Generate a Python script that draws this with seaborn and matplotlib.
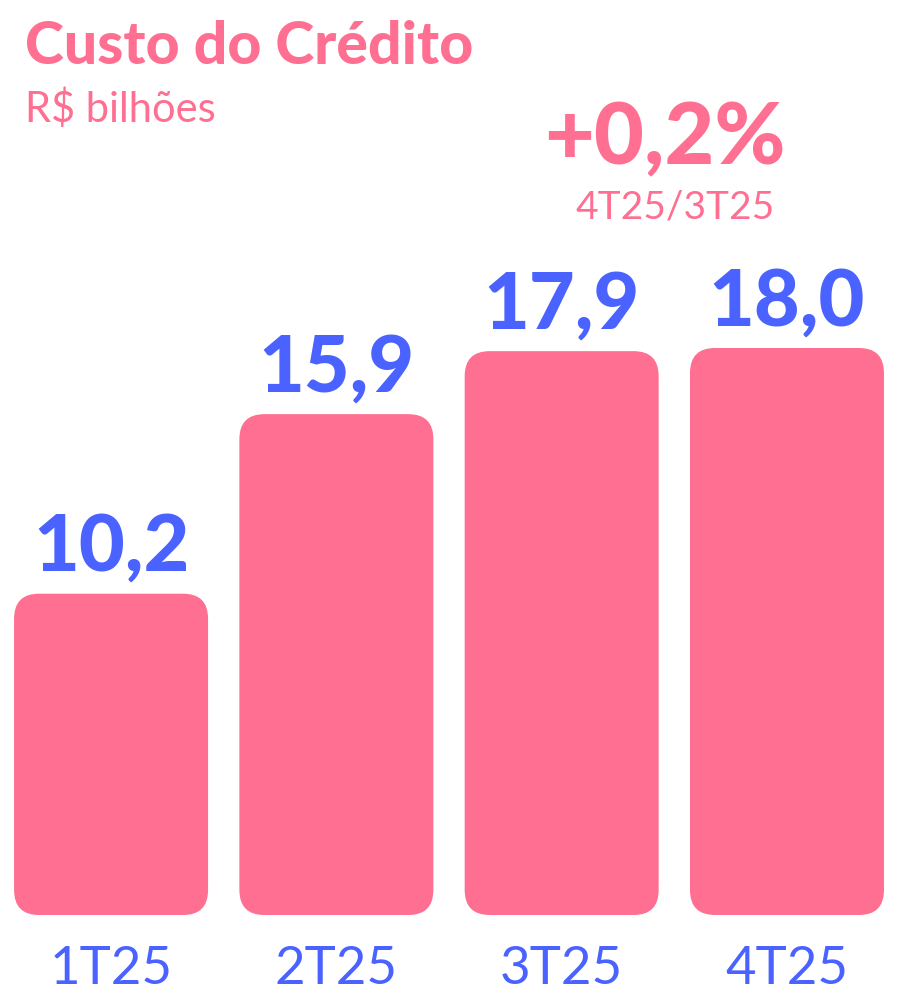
import matplotlib
matplotlib.use("Agg")
import matplotlib.pyplot as plt
import seaborn as sns
import pandas as pd
from matplotlib.patches import FancyBboxPatch

# data
quarters = ["1T25", "2T25", "3T25", "4T25"]
custo = [10.2, 15.9, 17.9, 18.0]
value_labels = ["10,2", "15,9", "17,9", "18,0"]
variacao = "+0,2%"
variacao_ref = "4T25/3T25"

PINK = "#FF6F91"
BLUE = "#4A62FF"

df = pd.DataFrame({"trimestre": quarters, "valor": custo})

sns.set_theme(style="white")
plt.rcParams["font.family"] = ["Lato", "DejaVu Sans"]

fig = plt.figure(figsize=(9.03, 9.98), dpi=100)
fig.patch.set_facecolor("white")
# axes: bars sit at 915px from top, 630px tall for ylim 0-20
ax = fig.add_axes([0, 83 / 998, 1, 630 / 998])

sns.barplot(data=df, x="trimestre", y="valor", color=PINK, width=0.861,
            saturation=1, ax=ax)
ax.set_xlim(-0.493, 3.515)
ax.set_ylim(0, 20)

# swap plain bars for rounded ones
bbox = ax.get_window_extent()
px_x = bbox.width / (ax.get_xlim()[1] - ax.get_xlim()[0])
px_y = bbox.height / (ax.get_ylim()[1] - ax.get_ylim()[0])
aspect = px_x / px_y
radius = 25 / px_x
for p in ax.patches:
    x, y, w, h = p.get_x(), p.get_y(), p.get_width(), p.get_height()
    p.set_visible(False)
    rb = FancyBboxPatch((x, y), w, h,
                        boxstyle=f"round,pad=0,rounding_size={radius}",
                        mutation_aspect=aspect, facecolor=PINK,
                        edgecolor="none", clip_on=False)
    ax.add_patch(rb)

ax.bar_label(ax.containers[0], labels=value_labels, padding=7,
             fontsize=57, fontweight="black", color=BLUE)

ax.set_xlabel("")
ax.set_ylabel("")
ax.set_yticks([])
ax.tick_params(axis="x", length=0, pad=22, labelsize=38, labelcolor=BLUE)
for lbl in ax.get_xticklabels():
    lbl.set_fontweight("normal")
sns.despine(ax=ax, left=True, bottom=True)
ax.set_facecolor("none")

fig.text(25 / 903, 1 - 64 / 998, "Custo do Crédito", fontsize=42.5,
         fontweight="black", color=PINK, va="baseline", ha="left")
fig.text(25 / 903, 1 - 122 / 998, "R$ bilhões", fontsize=30,
         fontweight="normal", color=PINK, va="baseline", ha="left")
fig.text(665 / 903, 1 - 164 / 998, variacao, fontsize=62,
         fontweight="black", color=PINK, va="baseline", ha="center")
fig.text(675 / 903, 1 - 219 / 998, variacao_ref, fontsize=28,
         fontweight="normal", color=PINK, va="baseline", ha="center")

fig.savefig("out.png", dpi=100, facecolor="white")
